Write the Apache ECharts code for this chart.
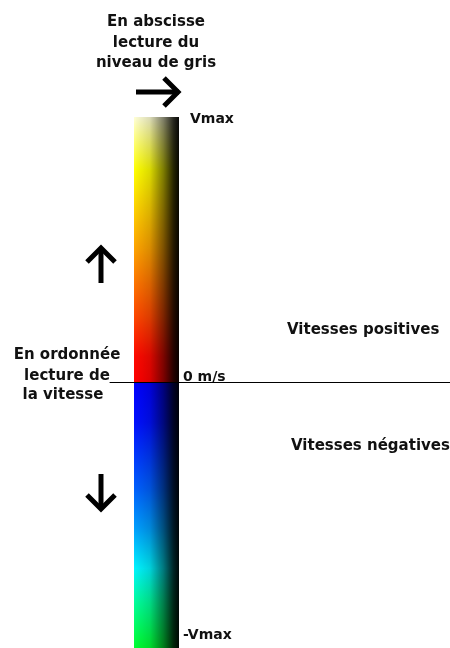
<!DOCTYPE html>
<html>
<head>
<meta charset="utf-8">
<script src="https://cdn.jsdelivr.net/npm/echarts@6/dist/echarts.min.js"></script>
<style>html,body{margin:0;padding:0;background:#fff;}#c{width:450px;height:648px;}</style>
</head>
<body>
<div id="c"></div>
<script>
// ---- data ----
const categories = ['niveau de gris'];
const vitessesPositives = [1];   // 0 -> Vmax
const vitessesNegatives = [-1];  // 0 -> -Vmax
const tickLabels = { '1': 'Vmax', '0': '0 m/s', '-1': '-Vmax' };
// colour along the speed axis (top -> bottom of each half)
const positiveStops = [[0, '#ffffd8'], [0.2, '#ffff00'], [0.5, '#ffa200'], [0.75, '#ff4800'], [0.9, '#ff0a00'], [1, '#ff0000']];
const negativeStops = [[0, '#0000ff'], [0.15, '#0010ff'], [0.4, '#0060ff'], [0.55, '#00a0ff'], [0.7, '#00f4ff'], [0.83, '#00ff9a'], [1, '#00ff30']];
// darkening along the grey-level axis (left -> right)
const shadeStops = [[0, 0], [0.35, 0.14], [0.65, 0.5], [0.88, 0.85], [1, 0.97]];
const titleLines = ['En abscisse', 'lecture du', 'niveau de gris'];
const leftLines = ['En ordonnée', 'lecture de', 'la vitesse'];

const FONT = '"DejaVu Sans", Verdana, sans-serif';
const vGrad = stops => new echarts.graphic.LinearGradient(0, 0, 0, 1, stops.map(s => ({ offset: s[0], color: s[1] })));
const shade = new echarts.graphic.LinearGradient(0, 0, 1, 0, shadeStops.map(s => ({ offset: s[0], color: 'rgba(0,0,0,' + s[1] + ')' })));

const chart = echarts.init(document.getElementById('c'));
const txt = (s, x, y) => ({ type: 'text', x: x, y: y, style: { text: s, font: 'bold 15px ' + FONT, fill: '#111', align: 'center', verticalAlign: 'middle' } });
const arrow = pts => ({ type: 'polyline', shape: { points: pts }, style: { stroke: '#000', lineWidth: 5, fill: null, lineJoin: 'miter', lineCap: 'butt' } });
const lab = pad => ({ fontSize: 14, fontWeight: 'bold', fontFamily: FONT, color: '#111', padding: pad });

chart.setOption({
  animation: false,
  grid: [
    { left: 134, width: 45, top: 117, height: 534 },
    { left: 110, right: 0, top: 117, height: 534 }
  ],
  xAxis: [
    { gridIndex: 0, type: 'category', data: categories, show: false },
    { gridIndex: 1, type: 'value', min: 0, max: 1, z: 10,
      axisLine: { show: true, onZero: true, lineStyle: { color: '#000', width: 1 } },
      axisTick: { show: false }, axisLabel: { show: false }, splitLine: { show: false } }
  ],
  yAxis: [
    { gridIndex: 0, type: 'value', min: -1, max: 1, interval: 1, position: 'right',
      axisLine: { show: false }, axisTick: { show: false }, splitLine: { show: false },
      axisLabel: {
        show: true, margin: 4, showMinLabel: true, showMaxLabel: true,
        fontSize: 14, fontWeight: 'bold', fontFamily: FONT, color: '#111',
        formatter: v => {
          const t = tickLabels[String(v)];
          if (v === 1) return '{max|' + t + '}';
          if (v === 0) return '{zero|' + t + '}';
          return '{min|' + t + '}';
        },
        rich: {
          max: lab([4, 0, 0, 7]),
          zero: lab([0, 0, 10, 0]),
          min: lab([0, 0, 26, 0])
        }
      } },
    { gridIndex: 1, type: 'value', min: -1, max: 1, show: false }
  ],
  series: [
    { name: 'Vitesses positives', type: 'bar', xAxisIndex: 0, yAxisIndex: 0, stack: 'v', barWidth: '100%',
      data: vitessesPositives, itemStyle: { color: vGrad(positiveStops) } },
    { name: 'Vitesses négatives', type: 'bar', xAxisIndex: 0, yAxisIndex: 0, stack: 'v', barWidth: '100%',
      data: vitessesNegatives, itemStyle: { color: vGrad(negativeStops) } },
    { name: 'gris+', type: 'bar', xAxisIndex: 0, yAxisIndex: 0, stack: 'g', barWidth: '100%', barGap: '-100%',
      data: vitessesPositives, itemStyle: { color: shade } },
    { name: 'gris-', type: 'bar', xAxisIndex: 0, yAxisIndex: 0, stack: 'g', barWidth: '100%', barGap: '-100%',
      data: vitessesNegatives, itemStyle: { color: shade } }
  ],
  graphic: [
    txt(titleLines[0], 156, 22), txt(titleLines[1], 156, 43), txt(titleLines[2], 156, 63),
    txt(leftLines[0], 67, 355), txt(leftLines[1], 67, 376), txt(leftLines[2], 63, 395),
    { type: 'text', x: 287, y: 330, style: { text: 'Vitesses positives', font: 'bold 15px ' + FONT, fill: '#111', verticalAlign: 'middle' } },
    { type: 'text', x: 291, y: 446, style: { text: 'Vitesses négatives', font: 'bold 15px ' + FONT, fill: '#111', verticalAlign: 'middle' } },
    arrow([[136, 92], [179, 92]]), arrow([[164, 78], [178, 92], [164, 106]]),
    arrow([[101, 283], [101, 248]]), arrow([[87, 262], [101, 248], [115, 262]]),
    arrow([[101, 474], [101, 509]]), arrow([[87, 495], [101, 509], [115, 495]])
  ]
});
</script>
</body>
</html>
